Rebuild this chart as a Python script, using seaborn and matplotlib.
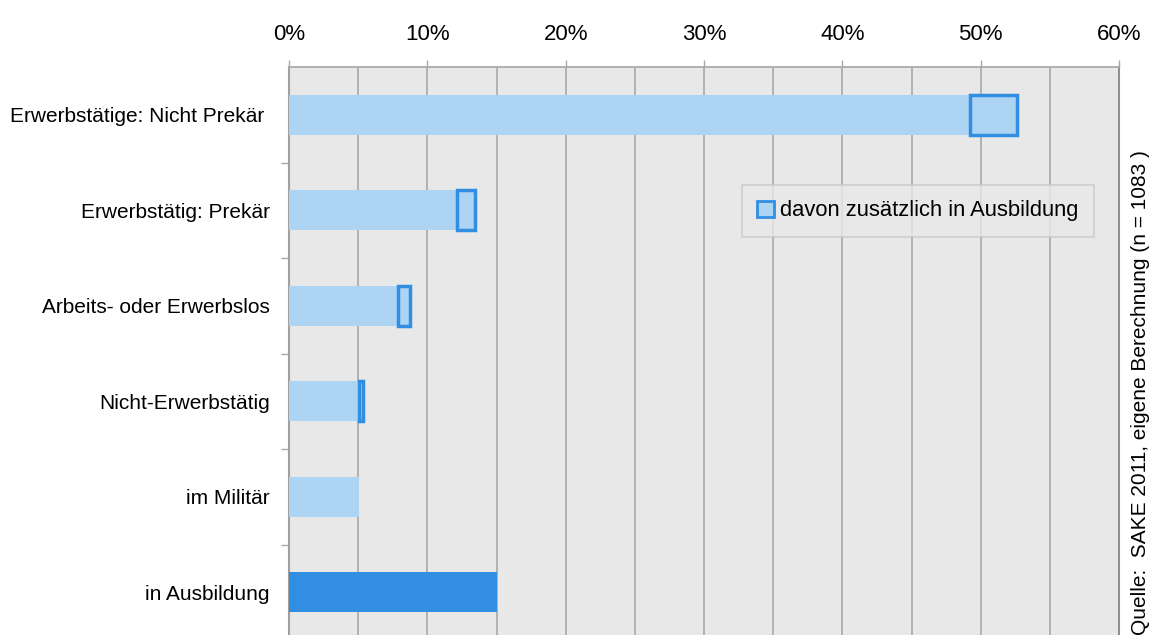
import matplotlib
matplotlib.use("Agg")
import matplotlib.pyplot as plt
import seaborn as sns
import pandas as pd
from matplotlib.patches import Patch

categories = ["Erwerbstätige: Nicht Prekär ", "Erwerbstätig: Prekär", "Arbeits- oder Erwerbslos",
              "Nicht-Erwerbstätig", "im Militär", "in Ausbildung"]
total = [52.6, 13.45, 8.75, 5.35, 5.05, 15.0]
davon = [3.4, 1.3, 0.85, 0.3, 0.0, 0.0]
xticks = [0, 10, 20, 30, 40, 50, 60]
legend_label = "davon zusätzlich in Ausbildung"
source = "Quelle:  SAKE 2011, eigene Berechnung (n = 1083 )"

light = "#AED4F4"
dark = "#318EE0"

sns.set_theme(style="white")
plt.rcParams['font.family'] = ['Liberation Sans', 'DejaVu Sans']
plt.rcParams['text.color'] = 'black'
plt.rcParams['xtick.labelcolor'] = 'black'
plt.rcParams['ytick.labelcolor'] = 'black'

fig = plt.figure(figsize=(11.55, 6.35), dpi=100)
ax = fig.add_axes([289/1155, -5/635, (1119-289)/1155, (635-67+5)/635])
ax.set_facecolor("#E8E8E8")

df = pd.DataFrame({"cat": categories, "total": total})
colors = [light]*5 + [dark]
sns.barplot(data=df, y="cat", x="total", hue="cat", palette=colors, legend=False,
            orient="h", width=0.42, ax=ax, saturation=1, edgecolor="none", zorder=3)

for i, (t, d) in enumerate(zip(total, davon)):
    if d > 0:
        ax.barh(i, d, left=t - d, height=0.42, color=light, edgecolor=dark,
                linewidth=2.5, zorder=4)

ax.set_xlim(0, 60)
ax.set_ylim(5.5, -0.5)
ax.set_xticks(xticks)
ax.set_xticks([5, 15, 25, 35, 45, 55], minor=True)
ax.set_xticklabels([f"{v}%" for v in xticks], fontsize=16)
ax.xaxis.tick_top()
ax.grid(axis="x", which="both", color="#A8A8A8", linewidth=1.2, zorder=0)
ax.set_axisbelow(True)
ax.tick_params(axis="x", which="major", top=True, bottom=False, length=5, width=1,
               color="#A8A8A8", pad=11)
ax.tick_params(axis="x", which="minor", top=False, bottom=False)
ax.set_yticks(range(len(categories)))
ax.set_yticklabels(categories, fontsize=15)
ax.set_yticks([0.5, 1.5, 2.5, 3.5, 4.5], minor=True)
ax.tick_params(axis="y", which="major", left=False, length=0, pad=14)
ax.tick_params(axis="y", which="minor", left=True, length=6, width=1, color="#A8A8A8")
ax.set_xlabel("")
ax.set_ylabel("")
for s in ["left", "right"]:
    ax.spines[s].set_visible(True)
    ax.spines[s].set_color("#A0A0A0")
    ax.spines[s].set_linewidth(1.5)
ax.spines["right"].set_color("#909090")
ax.spines["top"].set_visible(True)
ax.spines["top"].set_color("#A8A8A8")
ax.spines["bottom"].set_visible(False)

handle = Patch(facecolor=light, edgecolor=dark, linewidth=2)
leg = ax.legend([handle], [legend_label], loc="upper left", bbox_to_anchor=((742-289)/830, 1 - (185-67)/573),
                fontsize=15.8, frameon=True, fancybox=False, handlelength=0.75, handleheight=0.75,
                handletextpad=0.3, borderpad=0.7, borderaxespad=0)
leg.get_frame().set_facecolor("#E8E8E8")
leg.get_frame().set_edgecolor("#C8C8C8")
leg.get_frame().set_linewidth(1.2)

fig.text(1140/1155, 0.0, source, rotation=90, ha="center", va="bottom", fontsize=15)

fig.savefig("out.png", dpi=100, facecolor="white")
